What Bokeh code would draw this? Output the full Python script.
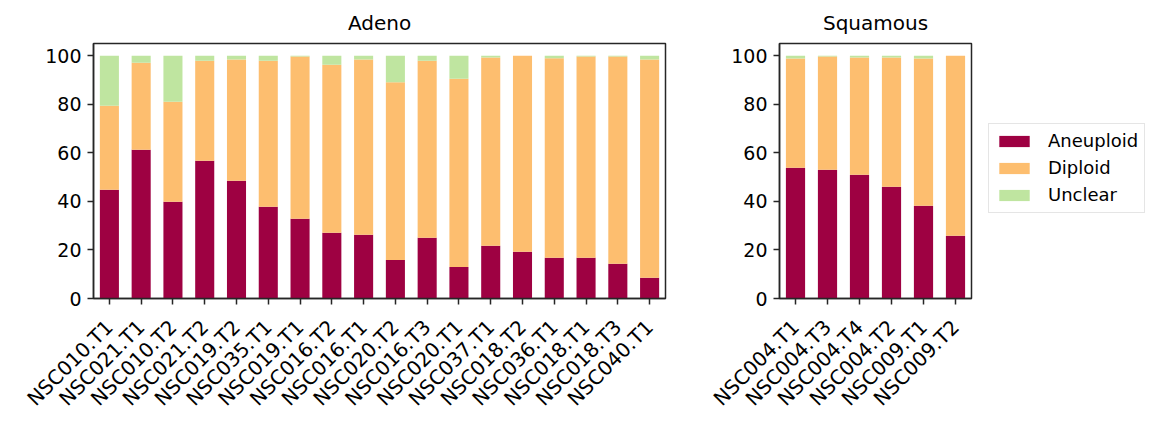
import math
from bokeh.plotting import figure
from bokeh.models import ColumnDataSource, FactorRange, Range1d, FixedTicker, Legend, LegendItem
from bokeh.layouts import row
from bokeh.embed import file_html
from bokeh.resources import INLINE

# ---- data ----
series = ["Aneuploid", "Diploid", "Unclear"]
colors = ["#9e0142", "#fdbe6f", "#bfe5a0"]

adeno_samples = ["NSC010.T1", "NSC021.T1", "NSC010.T2", "NSC021.T2", "NSC019.T2", "NSC035.T1",
                 "NSC019.T1", "NSC016.T2", "NSC016.T1", "NSC020.T2", "NSC016.T3", "NSC020.T1",
                 "NSC037.T1", "NSC018.T2", "NSC036.T1", "NSC018.T1", "NSC018.T3", "NSC040.T1"]
adeno_aneuploid = [44.8, 61.3, 39.8, 56.7, 48.5, 37.8, 32.8, 27.1, 26.2, 15.9, 25.0, 13.0,
                   21.7, 19.2, 16.8, 16.8, 14.3, 8.5]
adeno_diploid = [34.6, 35.8, 41.2, 41.2, 49.9, 60.1, 66.8, 69.2, 72.2, 73.1, 72.9, 77.5,
                 77.5, 80.8, 82.1, 82.8, 85.3, 89.9]
adeno_unclear = [20.6, 2.9, 19.0, 2.1, 1.6, 2.1, 0.4, 3.7, 1.6, 11.0, 2.1, 9.5,
                 0.8, 0.0, 1.1, 0.4, 0.4, 1.6]

squam_samples = ["NSC004.T1", "NSC004.T3", "NSC004.T4", "NSC004.T2", "NSC009.T1", "NSC009.T2"]
squam_aneuploid = [53.8, 53.0, 51.0, 46.0, 38.2, 25.8]
squam_diploid = [45.0, 46.6, 48.2, 53.2, 60.6, 74.2]
squam_unclear = [1.2, 0.4, 0.8, 0.8, 1.2, 0.0]

y_ticks = [0, 20, 40, 60, 80, 100]

FONT = "DejaVu Sans"
LINE = "#262626"
TOP = 43
FRAME_H = 255
BOTTOM = 118


def make(samples, aneu, dip, unc, title, b_left, frame_w, b_right):
    src = ColumnDataSource(dict(sample=samples, Aneuploid=aneu, Diploid=dip, Unclear=unc))
    p = figure(x_range=FactorRange(factors=samples, range_padding=0), y_range=Range1d(0, 105),
               frame_width=frame_w, frame_height=FRAME_H,
               min_border_left=b_left, min_border_right=b_right,
               min_border_top=TOP, min_border_bottom=BOTTOM,
               output_backend="svg", toolbar_location=None, title=title)
    rs = p.vbar_stack(series, x="sample", width=0.6, color=colors, source=src, line_width=0)
    p.title.text_font = FONT
    p.title.text_font_size = "20px"
    p.title.text_font_style = "normal"
    p.title.text_color = "black"
    p.title.align = "center"
    p.title.standoff = 17
    p.xgrid.visible = False
    p.ygrid.visible = False
    p.outline_line_color = LINE
    p.outline_line_width = 1.5
    p.outline_line_alpha = 1.0
    for ax in (p.xaxis[0], p.yaxis[0]):
        ax.axis_line_color = LINE
        ax.axis_line_width = 1.5
        ax.major_tick_line_color = LINE
        ax.major_tick_line_width = 1.5
        ax.major_tick_out = 6
        ax.major_tick_in = 0
        ax.minor_tick_line_color = None
        ax.major_label_text_font = FONT
        ax.major_label_text_color = "black"
    p.yaxis[0].major_label_text_font_size = "19px"
    p.yaxis[0].ticker = FixedTicker(ticks=y_ticks)
    p.yaxis[0].major_label_standoff = 6
    p.xaxis[0].major_label_text_font_size = "20px"
    p.xaxis[0].major_label_orientation = math.pi / 4
    p.xaxis[0].major_label_standoff = 19
    return p, rs


p1, _ = make(adeno_samples, adeno_aneuploid, adeno_diploid, adeno_unclear, "Adeno", 93, 572, 10)
p2, _ = make(squam_samples, squam_aneuploid, squam_diploid, squam_unclear, "Squamous", 104, 192, 5)

# legend-only figure
p3 = figure(width=180, height=TOP + FRAME_H + BOTTOM, x_range=Range1d(0, 1), y_range=Range1d(0, 1),
            output_backend="svg", toolbar_location=None,
            x_axis_location=None, y_axis_location=None,
            min_border_left=0, min_border_right=0, min_border_top=TOP, min_border_bottom=BOTTOM)
p3.grid.visible = False
p3.outline_line_color = None
items = []
for s, c in zip(series, colors):
    dummy = ColumnDataSource(dict(x=[-10.0], y=[-10.0]))
    r = p3.rect(x="x", y="y", width=0.1, height=0.1, fill_color=c, line_color=None, source=dummy)
    items.append(LegendItem(label=s, renderers=[r]))

legend = Legend(items=items, location="center_left")
legend.label_text_font = FONT
legend.label_text_font_size = "18px"
legend.label_text_color = "black"
legend.glyph_width = 38
legend.glyph_height = 14
legend.label_standoff = 15
legend.label_height = 22
legend.padding = 6
legend.spacing = 5
legend.margin = 12
legend.border_line_color = "#cccccc"
legend.border_line_width = 1.2
legend.background_fill_alpha = 1.0
p3.add_layout(legend, "center")

layout = row(p1, p2, p3, spacing=0)
open("out.html", "w").write(file_html(layout, INLINE))
